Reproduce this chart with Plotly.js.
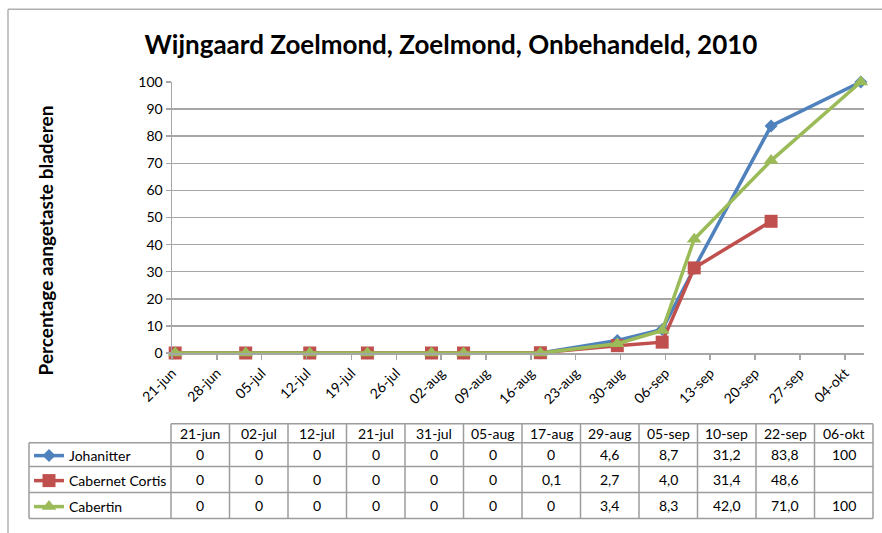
<!DOCTYPE html>
<html>
<head>
<meta charset="utf-8">
<script src="https://cdn.plot.ly/plotly-3.0.1.min.js"></script>
<style>html,body{margin:0;padding:0;background:#fff;}</style>
</head>
<body>
<div id="chart" style="width:882px;height:533px;"></div>
<script>
// ---- data ----
const dates = ['2010-06-21','2010-07-02','2010-07-12','2010-07-21','2010-07-31','2010-08-05','2010-08-17','2010-08-29','2010-09-05','2010-09-10','2010-09-22','2010-10-06'];
const dateLabels = ['21-jun','02-jul','12-jul','21-jul','31-jul','05-aug','17-aug','29-aug','05-sep','10-sep','22-sep','06-okt'];
const johanitter = [0,0,0,0,0,0,0,4.6,8.7,31.2,83.8,100];
const cabernetCortis = [0,0,0,0,0,0,0.1,2.7,4.0,31.4,48.6,null];
const cabertin = [0,0,0,0,0,0,0,3.4,8.3,42.0,71.0,100];
const seriesNames = ['Johanitter','Cabernet Cortis','Cabertin'];
const tickDates = ['2010-06-21','2010-06-28','2010-07-05','2010-07-12','2010-07-19','2010-07-26','2010-08-02','2010-08-09','2010-08-16','2010-08-23','2010-08-30','2010-09-06','2010-09-13','2010-09-20','2010-09-27','2010-10-04'];
const tickLabels = ['21-jun','28-jun','05-jul','12-jul','19-jul','26-jul','02-aug','09-aug','16-aug','23-aug','30-aug','06-sep','13-sep','20-sep','27-sep','04-okt'];

// ---- styling ----
const W = 882, H = 533;
const PL = 172, PR = 864, PT = 82, PB = 354;
const px = x => (x - PL) / (PR - PL);
const py = y => (PB - y) / (PB - PT);
const FONT = 'Lato, "Open Sans", sans-serif';
const GRID = '#a6a6a6';
const colors = ['#4F81BD', '#C0504D', '#9BBB59'];
const symbols = ['diamond', 'square', 'triangle-up'];
const sizes = [10, 13, 13];
const allSeries = [johanitter, cabernetCortis, cabertin];

// x positions: Excel date axis places points mid-day
const xMid = dates.map(d => d + ' 12:00');

const traces = allSeries.map((vals, i) => ({
  type: 'scatter', mode: 'lines+markers',
  name: seriesNames[i],
  x: xMid, y: vals,
  line: {color: colors[i], width: 3.5},
  marker: {symbol: symbols[i], size: sizes[i], color: colors[i]},
  cliponaxis: false,
  legend: i === 0 ? 'legend' : 'legend' + (i + 1),
  connectgaps: false
}));

// ---- table ----
const tL = 171, tR = 873, legL = 29;
const rowY = [425, 444, 468, 494, 520];
const nCol = dates.length;
const colW = (tR - tL) / nCol;
const lineStyle = {color: '#9c9c9c', width: 1.5};
const shapes = [];
// outer chart frame
shapes.push({type: 'line', xref: 'paper', yref: 'paper', x0: px(8), x1: px(900), y0: py(9), y1: py(9), line: {color: '#b0b0b0', width: 1.5}});
shapes.push({type: 'line', xref: 'paper', yref: 'paper', x0: px(8), x1: px(8), y0: py(9), y1: py(560), line: {color: '#b0b0b0', width: 1.5}});
// horizontal table lines
shapes.push({type: 'line', xref: 'paper', yref: 'paper', x0: px(tL), x1: px(tR), y0: py(rowY[0]), y1: py(rowY[0]), line: lineStyle});
for (let r = 1; r < rowY.length; r++) {
  shapes.push({type: 'line', xref: 'paper', yref: 'paper', x0: px(legL), x1: px(tR), y0: py(rowY[r]), y1: py(rowY[r]), line: lineStyle});
}
// vertical table lines
shapes.push({type: 'line', xref: 'paper', yref: 'paper', x0: px(legL), x1: px(legL), y0: py(rowY[1]), y1: py(rowY[4]), line: lineStyle});
for (let c = 0; c <= nCol; c++) {
  const x = tL + c * colW;
  shapes.push({type: 'line', xref: 'paper', yref: 'paper', x0: px(x), x1: px(x), y0: py(rowY[0]), y1: py(rowY[4]), line: lineStyle});
}

const fmt = v => (v === null || v === undefined) ? '' : (v === 0 || v === 100) ? String(v) : v.toFixed(1).replace('.', ',');
const annotations = [];
const cellFont = {family: FONT, size: 14, color: '#000'};
dateLabels.forEach((lab, c) => {
  annotations.push({xref: 'paper', yref: 'paper', x: px(tL + (c + 0.5) * colW), y: py((rowY[0] + rowY[1]) / 2),
    text: lab, showarrow: false, xanchor: 'center', yanchor: 'middle', font: cellFont});
});
allSeries.forEach((vals, r) => {
  vals.forEach((v, c) => {
    annotations.push({xref: 'paper', yref: 'paper', x: px(tL + (c + 0.5) * colW), y: py((rowY[r + 1] + rowY[r + 2]) / 2),
      text: fmt(v), showarrow: false, xanchor: 'center', yanchor: 'middle', font: cellFont});
  });
});
// y-axis title
annotations.push({xref: 'paper', yref: 'paper', x: px(45), y: py(241), text: '<b>Percentage aangetaste bladeren</b>',
  textangle: -90, showarrow: false, xanchor: 'center', yanchor: 'middle', font: {family: FONT, size: 19, color: '#000'}});

const legendBase = {xref: 'paper', yref: 'paper', bgcolor: 'rgba(0,0,0,0)', borderwidth: 0,
  font: {family: FONT, size: 14, color: '#000'}, xanchor: 'left', yanchor: 'middle', itemwidth: 30, tracegroupgap: 0};
const legY = r => py((rowY[r + 1] + rowY[r + 2]) / 2);

const layout = {
  width: W, height: H,
  margin: {l: PL, r: W - PR, t: PT, b: H - PB},
  paper_bgcolor: '#fff', plot_bgcolor: '#fff',
  font: {family: FONT, size: 14, color: '#000'},
  title: {text: '<b>Wijngaard Zoelmond, Zoelmond, Onbehandeld, 2010</b>', xref: 'container', yref: 'container',
    x: 451 / W, y: 1 - 45 / H, xanchor: 'center', yanchor: 'middle', font: {family: FONT, size: 26, color: '#000'}},
  xaxis: {type: 'date', range: ['2010-06-21', '2010-10-07'], tickvals: tickDates, ticktext: tickLabels,
    tickangle: -45, showgrid: false, showline: true, linecolor: GRID, linewidth: 1.5, ticks: 'outside', ticklen: 5,
    tickcolor: GRID, tickwidth: 1.5, zeroline: false, tickfont: {family: FONT, size: 14, color: '#000'}, fixedrange: true},
  yaxis: {range: [0, 100], dtick: 10, tick0: 0, showgrid: true, gridcolor: GRID, gridwidth: 1.5, showline: true,
    linecolor: GRID, linewidth: 1.5, ticks: 'outside', ticklen: 5, tickcolor: GRID, tickwidth: 1.5, zeroline: false,
    tickfont: {family: FONT, size: 14, color: '#000'}, fixedrange: true},
  showlegend: true,
  legend: Object.assign({}, legendBase, {x: px(legL), y: legY(0)}),
  legend2: Object.assign({}, legendBase, {x: px(legL), y: legY(1)}),
  legend3: Object.assign({}, legendBase, {x: px(legL), y: legY(2)}),
  shapes: shapes,
  annotations: annotations
};

Plotly.newPlot('chart', traces, layout, {displayModeBar: false, staticPlot: true});
</script>
</body>
</html>
